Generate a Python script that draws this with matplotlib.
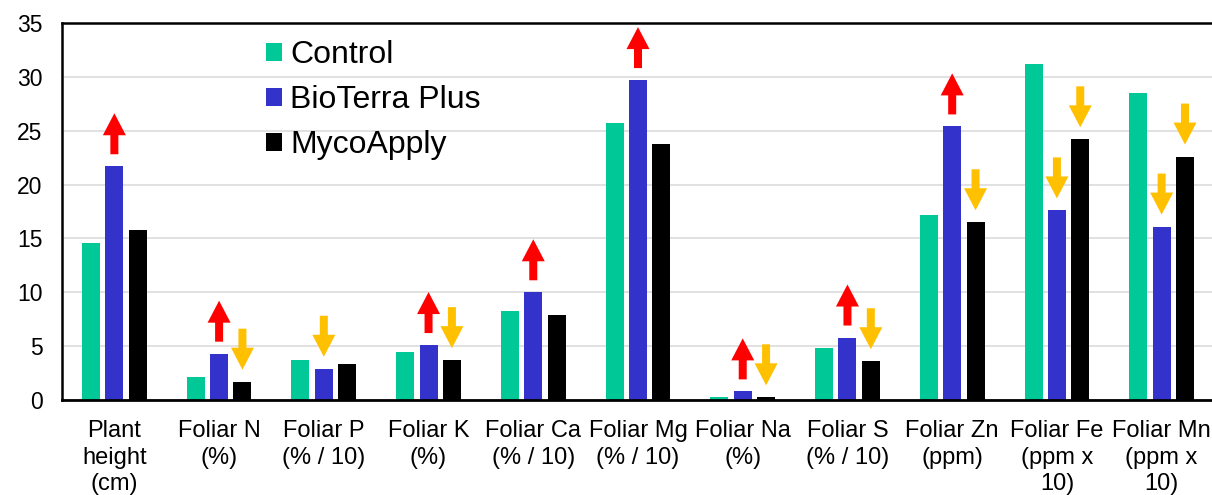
import matplotlib
matplotlib.use("Agg")
import matplotlib.pyplot as plt
import matplotlib.transforms as mtransforms
import numpy as np

plt.rcParams['font.family'] = ['Liberation Sans', 'DejaVu Sans']

categories = ['Plant\nheight\n(cm)', 'Foliar N\n(%)', 'Foliar P\n(% / 10)', 'Foliar K\n(%)',
              'Foliar Ca\n(% / 10)', 'Foliar Mg\n(% / 10)', 'Foliar Na\n(%)', 'Foliar S\n(% / 10)',
              'Foliar Zn\n(ppm)', 'Foliar Fe\n(ppm x\n10)', 'Foliar Mn\n(ppm x\n10)']
control = [14.6, 2.1, 3.7, 4.5, 8.3, 25.7, 0.3, 4.8, 17.2, 31.2, 28.5]
bioterra = [21.7, 4.3, 2.9, 5.1, 10.0, 29.7, 0.8, 5.8, 25.4, 17.6, 16.1]
mycoapply = [15.8, 1.7, 3.3, 3.7, 7.9, 23.8, 0.25, 3.6, 16.5, 24.2, 22.6]

# change markers drawn above the treatment bars
bio_change = ['up', 'up', 'down', 'up', 'up', 'up', 'up', 'up', 'up', 'down', 'down']
myco_change = [None, 'down', None, 'down', None, None, 'down', 'down', 'down', 'down', 'down']

c_control = '#00C896'
c_bio = '#3333CC'
c_myco = '#000000'
c_up = '#FF0000'
c_down = '#FFC000'

fig = plt.figure(figsize=(12.12, 4.95), dpi=100)
ax = fig.add_axes([62 / 1212, 95 / 495, 1152 / 1212, 377 / 495])

x = np.arange(len(categories))
off = 0.223
w = 0.172
ax.bar(x - off, control, w, color=c_control, label='Control', zorder=2)
ax.bar(x, bioterra, w, color=c_bio, label='BioTerra Plus', zorder=2)
ax.bar(x + off, mycoapply, w, color=c_myco, label='MycoApply', zorder=2)

ax.set_xlim(-0.5, len(categories) - 0.5)
ax.set_ylim(0, 35)
ax.set_yticks(range(0, 36, 5))
ax.set_xticks(x)
ax.set_xticklabels(categories, fontsize=17, linespacing=1.27)
ax.tick_params(axis='y', length=0, pad=14, labelsize=16.5)
ax.tick_params(axis='x', length=0, pad=14.5)

ax.grid(axis='y', color='#D9D9D9', linewidth=1.1, zorder=0)
ax.set_axisbelow(True)
for s in ['left', 'top']:
    ax.spines[s].set_linewidth(1.8)
ax.spines['bottom'].set_linewidth(2.0)
ax.spines['right'].set_visible(False)

gap = 12
alen = 41
aprops = dict(width=8 * 0.72, headwidth=23 * 0.72, headlength=22 * 0.72, shrink=0, lw=0)


def arrow(xp, v, kind):
    lo = mtransforms.offset_copy(ax.transData, fig=fig, y=gap, units='dots')
    hi = mtransforms.offset_copy(ax.transData, fig=fig, y=gap + alen, units='dots')
    if kind == 'up':
        ax.annotate('', xy=(xp, v), xycoords=hi, xytext=(xp, v), textcoords=lo,
                    arrowprops=dict(color=c_up, **aprops), annotation_clip=False)
    else:
        ax.annotate('', xy=(xp, v), xycoords=lo, xytext=(xp, v), textcoords=hi,
                    arrowprops=dict(color=c_down, **aprops), annotation_clip=False)


for i in range(len(categories)):
    if bio_change[i]:
        arrow(x[i], bioterra[i], bio_change[i])
    if myco_change[i]:
        arrow(x[i] + off, mycoapply[i], myco_change[i])

ax.legend(loc='upper left', bbox_to_anchor=(266 / 1212, 1 - 40 / 495),
          bbox_transform=fig.transFigure, frameon=False, fontsize=23,
          handlelength=0.5, handleheight=0.5, handletextpad=0.25,
          labelspacing=0.47, borderpad=0, borderaxespad=0)

fig.savefig('out.png', dpi=100)
